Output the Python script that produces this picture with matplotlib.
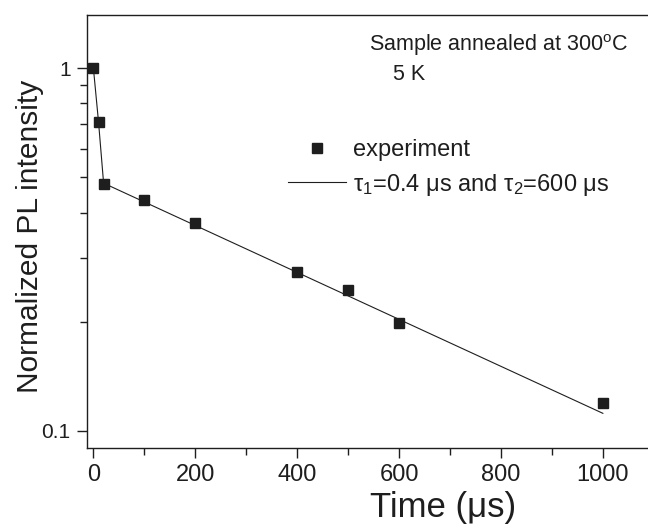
import matplotlib
matplotlib.use("Agg")
import matplotlib.pyplot as plt
from matplotlib.ticker import FixedLocator, NullFormatter, FixedFormatter

plt.rcParams['font.family'] = ['Liberation Sans', 'DejaVu Sans']
plt.rcParams['mathtext.fontset'] = 'custom'
plt.rcParams['mathtext.rm'] = 'Liberation Sans'
plt.rcParams['mathtext.it'] = 'Liberation Sans'
plt.rcParams['mathtext.sf'] = 'Liberation Sans'

# Data
time_us = [0, 10, 20, 100, 200, 400, 500, 600, 1000]
intensity = [1.0, 0.712, 0.479, 0.433, 0.3735, 0.275, 0.2445, 0.198, 0.1195]
fit_t = [0, 10, 20, 1000]
fit_y = [1.0, 0.712, 0.482, 0.1117]

x_major = [0, 200, 400, 600, 800, 1000]
x_minor = [100, 300, 500, 700, 900]
y_major = [0.1, 1]
y_major_labels = ["0.1", "1"]
y_minor = [0.2, 0.3, 0.4, 0.5, 0.6, 0.7, 0.8, 0.9]

W, H = 648, 525
fig = plt.figure(figsize=(W / 100, H / 100), dpi=100)
left, right, bottom, top = 87.3, 653.8, 447.5, 15.0
ax = fig.add_axes([left / W, 1 - bottom / H, (right - left) / W, (bottom - top) / H])

col = '#1e1e1e'
ax.plot(fit_t, fit_y, color=col, lw=0.8, label="τ$_1$=0.4 μs and τ$_2$=600 μs")
ax.plot(time_us, intensity, ls='none', marker='s', ms=6.5, color=col, mec=col,
        label="experiment")

ax.set_yscale('log')
ax.set_xlim(-12, 1100)
ax.set_ylim(0.0899, 1.403)

ax.xaxis.set_major_locator(FixedLocator(x_major))
ax.xaxis.set_minor_locator(FixedLocator(x_minor))
ax.yaxis.set_major_locator(FixedLocator(y_major))
ax.yaxis.set_major_formatter(FixedFormatter(y_major_labels))
ax.yaxis.set_minor_locator(FixedLocator(y_minor))
ax.yaxis.set_minor_formatter(NullFormatter())

ax.tick_params(axis='both', which='major', direction='out', length=7, width=1.0,
               labelsize=17, pad=5, colors=col, top=False, right=False)
ax.tick_params(axis='both', which='minor', direction='out', length=5, width=1.0,
               top=False, right=False, colors=col)
ax.tick_params(axis='y', which='major', labelsize=15)

for s in ['left', 'bottom', 'top']:
    ax.spines[s].set_linewidth(1.0)
    ax.spines[s].set_color(col)
ax.spines['right'].set_visible(False)

fig.text(30 / W, 1 - 236 / H, "Normalized PL intensity", rotation=90, ha='center', va='center',
         fontsize=21.5, color=col)
fig.text(443 / W, 1 - 508 / H, "Time (μs)", ha='center', va='center', fontsize=25, color=col)

fig.text(369 / W, 1 - 45 / H, r"Sample annealed at 300$^{\mathrm{o}}$C", ha='left', va='center',
         fontsize=15.5, color=col)
fig.text(392.7 / W, 1 - 75 / H, "5 K", ha='left', va='center', fontsize=15.5, color=col)

handles, labels = ax.get_legend_handles_labels()
leg = ax.legend(handles[::-1], labels[::-1], loc='upper left',
                bbox_to_anchor=(287.7 / W, 1 - 139 / H), bbox_transform=fig.transFigure,
                frameon=False, fontsize=17, borderpad=0, borderaxespad=0,
                handlelength=2.45, handletextpad=0.3, labelspacing=0.45, numpoints=1)
for t in leg.get_texts():
    t.set_color(col)

fig.savefig("out.png", dpi=100)
